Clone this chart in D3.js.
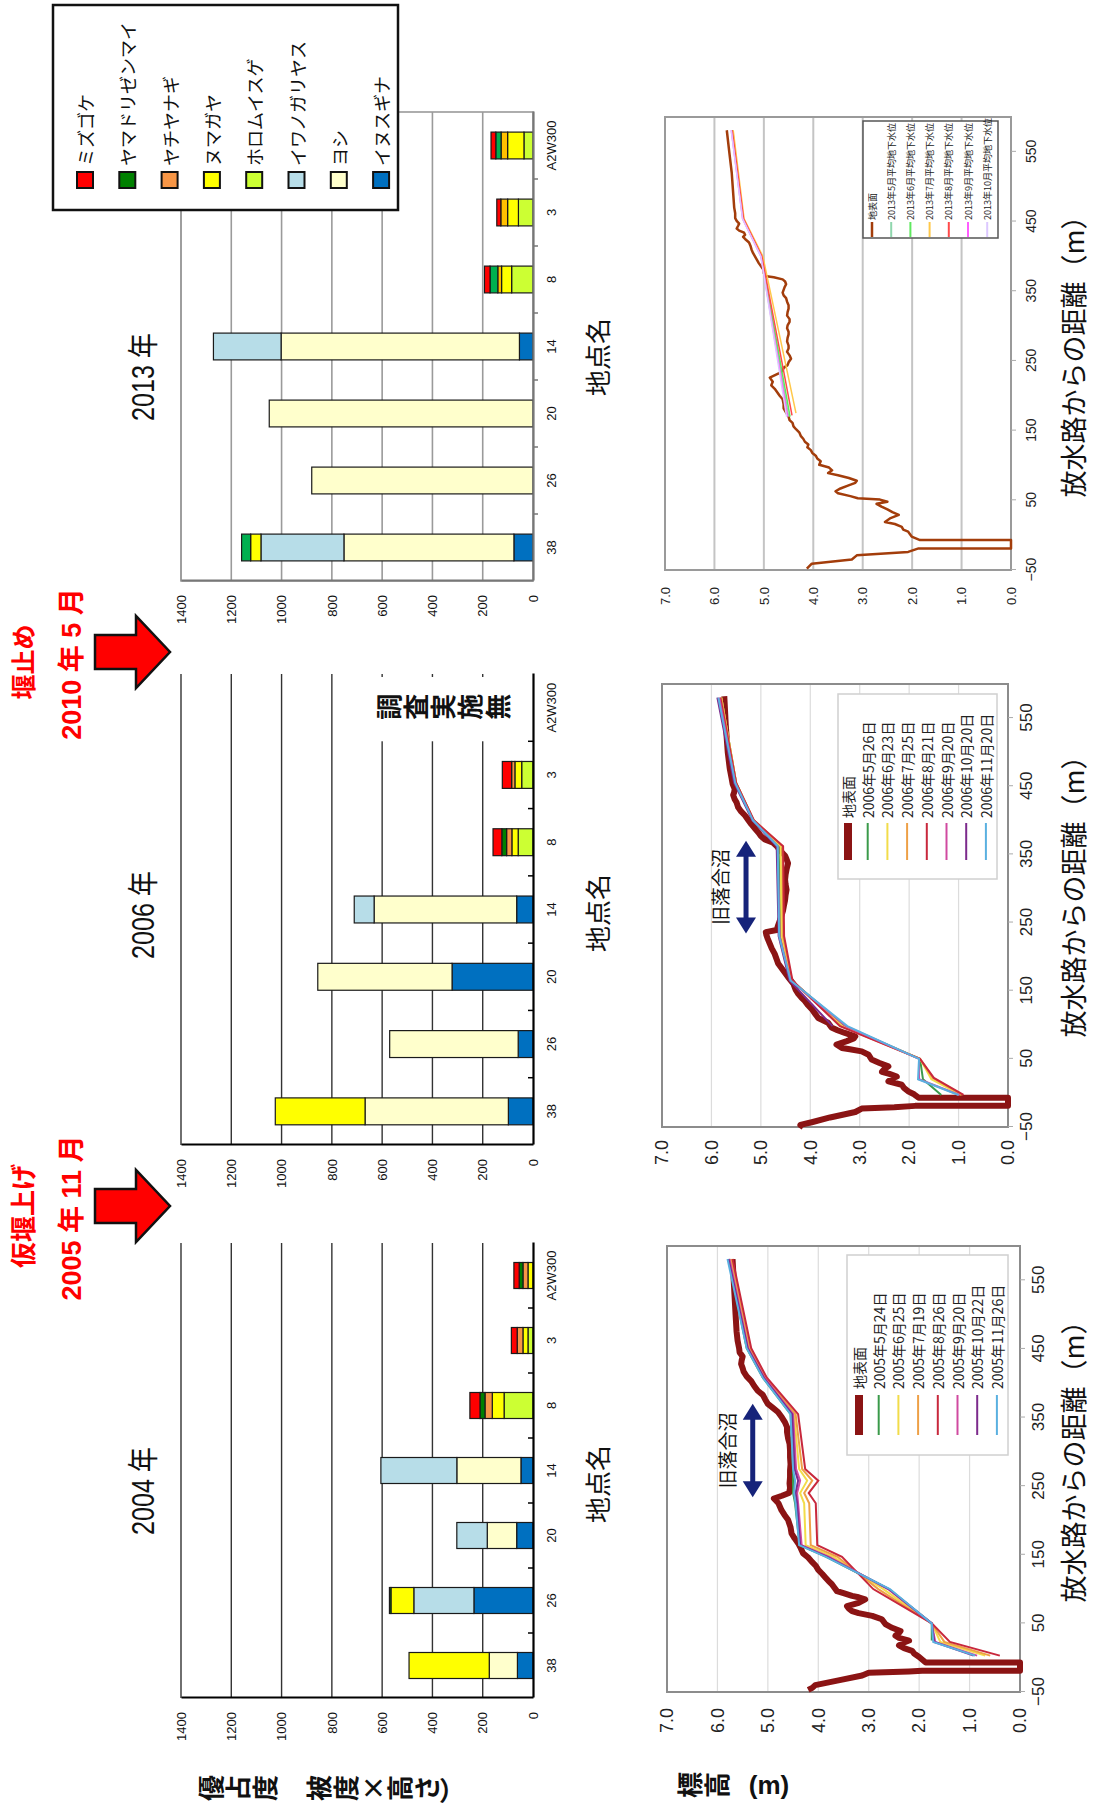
<!DOCTYPE html>
<html lang="ja">
<head>
<meta charset="utf-8">
<title>植生と地下水位の変化</title>
<script src="https://d3js.org/d3.v7.min.js"></script>
<style>
  body { margin: 0; background: #fff; }
</style>
</head>
<body>
<div id="chart"></div>
<script>
// ---- vegetation (優占度) ----
var sites = ["38", "26", "20", "14", "8", "3", "A2W300"];
// stacking order from the axis up
var species = ["イヌスギナ", "ヨシ", "イワノガリヤス", "ホロムイスゲ", "ヌマガヤ", "ヤチヤナギ", "ヤマドリゼンマイ", "ミズゴケ"];
var speciesColors = ["#0070c0", "#ffffcc", "#b7dde8", "#ccff33", "#ffff00", "#f79646", "#008000", "#ff0000"];
var speciesColors2013 = ["#0070c0", "#ffffcc", "#b7dde8", "#ccff33", "#ffff00", "#ffc000", "#00b050", "#ff0000"];
var valueTicks = [0, 200, 400, 600, 800, 1000, 1200, 1400];

// rows follow sites, columns follow species
var veg2004 = [
  [62, 112, 0, 0, 319, 0, 0, 0],
  [235, 0, 239, 0, 91, 0, 6, 0],
  [65, 117, 121, 0, 0, 0, 0, 0],
  [48, 255, 302, 0, 0, 0, 0, 0],
  [0, 0, 0, 115, 47, 29, 20, 40],
  [0, 0, 0, 20, 20, 23, 0, 23],
  [0, 0, 0, 0, 20, 20, 15, 21]
];
var veg2006 = [
  [98, 570, 0, 0, 357, 0, 0, 0],
  [59, 511, 0, 0, 0, 0, 0, 0],
  [322, 534, 0, 0, 0, 0, 0, 0],
  [65, 567, 79, 0, 0, 0, 0, 0],
  [0, 0, 0, 59, 25, 21, 19, 35],
  [0, 0, 0, 45, 27, 13, 0, 37],
  [0, 0, 0, 0, 0, 0, 0, 0]
];
var noSurvey2006 = ["A2W300"];
var veg2013 = [
  [76, 676, 330, 0, 41, 0, 36, 0],
  [0, 880, 0, 0, 0, 0, 0, 0],
  [0, 1049, 0, 0, 0, 0, 0, 0],
  [54, 948, 269, 0, 0, 0, 0, 0],
  [0, 0, 0, 85, 40, 15, 31, 22],
  [0, 0, 0, 58, 43, 27, 0, 16],
  [0, 0, 0, 36, 65, 26, 21, 19]
];

// ---- elevation profiles: [distance m, elevation m] ----
var distTicks = [-50, 50, 150, 250, 350, 450, 550];
var elevTicks = [0, 1, 2, 3, 4, 5, 6, 7];
var lakeSpan = [234, 370];

var ground2005 = [[-47,4.2],[-44,4.12],[-40,4.06],[-33,3.6],[-26,3.13],[-22,3.0],[-20,2.2],[-19,1.94],[-19,0],[-7,0],[-7,1.87],[1,2.0],[6,2.1],[10,2.14],[14,2.3],[18,2.4],[22,2.3],[25,2.2],[29,2.4],[32,2.47],[36,2.4],[39,2.37],[44,2.55],[49,2.67],[56,2.74],[61,2.93],[65,3.2],[68,3.33],[72,3.4],[75,3.43],[80,3.2],[85,3.07],[88,3.2],[90,3.33],[94,3.5],[97,3.63],[102,3.68],[107,3.73],[112,3.8],[117,3.86],[122,3.92],[128,4.0],[134,4.05],[140,4.13],[146,4.2],[152,4.3],[160,4.35],[167,4.4],[174,4.47],[181,4.53],[190,4.55],[201,4.6],[208,4.67],[215,4.73],[225,4.79],[232,4.88],[236,4.72],[240,4.58],[247,4.56],[254,4.57],[263,4.56],[273,4.56],[282,4.55],[292,4.56],[302,4.56],[312,4.57],[320,4.6],[329,4.62],[336,4.62],[343,4.66],[350,4.72],[358,4.8],[364,4.9],[370,5.0],[376,5.05],[383,5.1],[389,5.2],[396,5.27],[403,5.33],[410,5.42],[417,5.48],[422,5.5],[428,5.53],[433,5.52],[439,5.5],[445,5.56],[451,5.57],[462,5.6],[475,5.62],[500,5.64],[540,5.67],[581,5.7]];

var ground2006 = [[-50,4.14],[-47,4.2],[-43,3.97],[-36,3.6],[-28,3.09],[-23,2.96],[-21,2.3],[-19,1.88],[-19,0],[-7,0],[-7,1.81],[-2,1.9],[2,2.01],[7,2.1],[12,2.15],[17,2.42],[21,2.35],[24,2.25],[28,2.4],[31,2.55],[35,2.5],[39,2.42],[44,2.6],[49,2.76],[56,2.82],[61,2.96],[64,3.2],[66,3.36],[71,3.47],[76,3.26],[80,3.12],[83,3.09],[88,3.3],[92,3.45],[96,3.57],[103,3.64],[110,3.84],[116,3.9],[123,3.97],[129,4.05],[135,4.11],[140,4.18],[145,4.24],[152,4.3],[160,4.34],[170,4.45],[180,4.55],[190,4.65],[204,4.72],[212,4.78],[219,4.82],[226,4.86],[232,4.89],[236,4.9],[239,4.68],[246,4.65],[254,4.61],[261,4.58],[268,4.55],[276,4.53],[283,4.51],[290,4.5],[298,4.48],[306,4.5],[313,4.51],[320,4.5],[328,4.48],[337,4.45],[343,4.48],[348,4.51],[355,4.6],[362,4.68],[367,4.75],[372,4.92],[377,5.0],[382,5.05],[388,5.12],[394,5.19],[401,5.26],[407,5.32],[413,5.4],[419,5.46],[426,5.49],[431,5.53],[437,5.56],[441,5.54],[446,5.53],[453,5.57],[461,5.59],[476,5.63],[500,5.67],[540,5.71],[582,5.74]];

var ground2013 = [[-48,4.13],[-41,4.03],[-35,3.22],[-29,3.12],[-24,2.08],[-19,1.87],[-19,0],[-7,0],[-7,1.84],[-2,2.01],[5,2.08],[8,2.18],[12,2.21],[16,2.35],[19,2.55],[24,2.45],[29,2.27],[33,2.4],[37,2.5],[41,2.62],[45,2.72],[48,2.5],[51,2.65],[53,3.1],[56,3.25],[60,3.5],[63,3.55],[67,3.45],[71,3.3],[75,3.15],[78,3.12],[82,3.28],[86,3.5],[89,3.7],[93,3.62],[97,3.68],[101,3.88],[106,3.85],[110,3.92],[114,3.95],[118,4.02],[122,4.05],[126,4.12],[130,4.1],[134,4.17],[138,4.2],[142,4.25],[147,4.28],[152,4.35],[156,4.4],[161,4.42],[165,4.48],[170,4.5],[176,4.55],[182,4.6],[188,4.6],[195,4.62],[200,4.68],[205,4.73],[210,4.78],[215,4.85],[220,4.82],[226,4.88],[232,4.7],[236,4.62],[240,4.6],[244,4.52],[248,4.5],[253,4.45],[258,4.48],[263,4.53],[268,4.5],[272,4.5],[278,4.53],[283,4.52],[288,4.5],[292,4.5],[297,4.53],[301,4.52],[306,4.48],[310,4.48],[315,4.53],[320,4.52],[325,4.5],[330,4.5],[335,4.53],[340,4.55],[344,4.6],[348,4.62],[352,4.6],[356,4.58],[360,4.55],[364,4.57],[367,4.62],[370,4.8],[372,4.98],[376,5.0],[380,5.0],[385,5.05],[390,5.1],[395,5.14],[400,5.18],[405,5.22],[410,5.25],[415,5.27],[420,5.3],[425,5.38],[428,5.42],[431,5.38],[434,5.4],[437,5.5],[440,5.55],[444,5.52],[447,5.5],[451,5.55],[455,5.58],[462,5.58],[470,5.6],[490,5.62],[520,5.65],[550,5.7],[581,5.75]];

var wl2005Labels = ["2005年5月24日", "2005年6月25日", "2005年7月19日", "2005年8月26日", "2005年9月20日", "2005年10月22日", "2005年11月26日"];
var wl2005Colors = ["#3a9a4a", "#f2dc4a", "#eea046", "#c8283c", "#d04aa0", "#7c2a8c", "#5ab0e0"];
var wl2005 = [
  [[25,1.75],[50,1.75],[100,2.6],[147,3.84],[164,4.37],[225,4.46],[240,4.5],[258,4.5],[275,4.5],[355,4.55],[408,5.1],[451,5.42],[581,5.78]],
  [[3,0.69],[23,1.58],[50,1.75],[100,2.71],[147,3.7],[164,4.25],[225,4.28],[240,4.36],[258,4.22],[275,4.38],[355,4.48],[408,5.06],[451,5.37],[581,5.74]],
  [[3,0.59],[23,1.5],[50,1.75],[100,2.81],[147,3.62],[164,4.15],[225,4.18],[240,4.28],[258,4.12],[275,4.32],[355,4.45],[408,5.04],[451,5.35],[581,5.72]],
  [[3,0.4],[23,1.39],[50,1.75],[100,2.91],[147,3.53],[164,4.02],[225,4.05],[240,4.19],[258,4.0],[275,4.26],[355,4.4],[408,5.02],[451,5.33],[581,5.7]],
  [[3,0.85],[23,1.68],[50,1.75],[100,2.62],[147,3.78],[164,4.33],[225,4.4],[240,4.42],[258,4.36],[275,4.44],[355,4.5],[408,5.07],[451,5.39],[581,5.76]],
  [[3,0.92],[23,1.7],[50,1.75],[100,2.6],[147,3.82],[164,4.36],[225,4.42],[240,4.45],[258,4.4],[275,4.47],[355,4.52],[408,5.08],[451,5.4],[581,5.78]],
  [[3,0.89],[23,1.72],[50,1.75],[100,2.58],[147,3.85],[164,4.38],[225,4.45],[240,4.48],[258,4.46],[275,4.5],[355,4.55],[408,5.1],[451,5.42],[581,5.8]]
];

var wl2006Labels = ["2006年5月26日", "2006年6月23日", "2006年7月25日", "2006年8月21日", "2006年9月20日", "2006年10月20日", "2006年11月20日"];
var wl2006Colors = ["#3a9a4a", "#f2dc4a", "#eea046", "#c8283c", "#d04aa0", "#7c2a8c", "#5ab0e0"];
var wl2006 = [
  [[-3,1.35],[20,1.72],[50,1.78],[98,3.3],[165,4.38],[230,4.6],[362,4.64],[400,5.15],[455,5.5],[580,5.8]],
  [[-3,0.95],[20,1.55],[50,1.78],[98,3.35],[165,4.38],[230,4.58],[362,4.6],[400,5.15],[455,5.5],[580,5.8]],
  [[-3,0.92],[22,1.52],[50,1.78],[98,3.38],[165,4.37],[230,4.55],[362,4.56],[400,5.14],[455,5.5],[580,5.8]],
  [[-3,0.9],[22,1.5],[50,1.78],[98,3.4],[165,4.36],[230,4.53],[362,4.55],[400,5.14],[455,5.5],[580,5.82]],
  [[-3,0.98],[20,1.8],[50,1.8],[98,3.28],[165,4.4],[230,4.62],[362,4.66],[400,5.16],[455,5.52],[580,5.84]],
  [[98,3.55],[165,4.42],[230,4.64],[362,4.68],[400,5.17],[455,5.54],[580,5.88]],
  [[-3,1.0],[20,1.82],[50,1.8],[98,3.25],[165,4.4],[230,4.63],[362,4.66],[400,5.16],[455,5.52],[580,5.86]]
];

var wl2013Labels = ["2013年5月平均地下水位", "2013年6月平均地下水位", "2013年7月平均地下水位", "2013年8月平均地下水位", "2013年9月平均地下水位", "2013年10月平均地下水位"];
var wl2013Colors = ["#8fd6ad", "#5fe85f", "#ffc84a", "#ff4a4a", "#ff5cff", "#dcc8ff"];
var wl2013 = [
  [[170,4.5],[400,5.05],[454,5.42],[581,5.64]],
  [[170,4.47],[400,5.05],[454,5.42],[581,5.63]],
  [[175,4.35],[400,5.02],[454,5.4],[581,5.62]],
  [[172,4.43],[400,5.04],[454,5.41],[581,5.64]],
  [[170,4.52],[400,5.06],[454,5.43],[581,5.66]],
  [[170,4.54],[400,5.06],[454,5.43],[581,5.66]]
];

// ---- drawing: the figure is laid out landscape and turned onto the page ----
var W = 1807;
var FONT = '"Liberation Sans","Noto Sans CJK JP",sans-serif';
var JFONT = '"Noto Sans CJK JP",sans-serif';
var NAVY = "#16237a";

var svg = d3.select("#chart").append("svg").attr("width", 1096).attr("height", 1807);
svg.append("rect").attr("width", 1096).attr("height", 1807).attr("fill", "#fff");
var g = svg.append("g").attr("transform", "translate(0," + W + ") rotate(-90)");

function label(parent, str, x, y, size, opts) {
  opts = opts || {};
  var t = parent.append("text").attr("x", x).attr("y", y)
    .attr("text-anchor", opts.anchor || "middle")
    .attr("font-family", opts.family || JFONT)
    .attr("font-size", size)
    .attr("font-weight", opts.weight || "normal")
    .attr("fill", opts.fill || "#111")
    .text(str);
  if (opts.len) t.attr("textLength", opts.len).attr("lengthAdjust", "spacingAndGlyphs");
  if (opts.baseline) t.attr("dominant-baseline", opts.baseline);
  return t;
}

// vertical (tate) text: one token per cell, brackets turned
function vtext(tokens, cx, y0, pitch, size, weight) {
  tokens.forEach(function (tk, i) {
    var cy = y0 + i * pitch;
    var t = label(g, tk, cx, cy, size, { weight: weight, baseline: "central", family: tk.length > 1 ? FONT : JFONT });
    if (/[()（）]/.test(tk)) t.attr("transform", "rotate(90," + cx + "," + cy + ")");
  });
}

function barChart(rows, o) {
  var x = d3.scaleBand().domain(sites).range([o.x0, o.x1]).paddingInner(0.6).paddingOuter(0.3);
  var y = d3.scaleLinear().domain([0, 1400]).range([533, 181]);
  var cols = o.colors || speciesColors;
  var c = g.append("g");

  if (o.frame) {
    c.append("rect").attr("x", o.x0).attr("y", y(1400)).attr("width", o.x1 - o.x0).attr("height", y(0) - y(1400))
      .attr("fill", "none").attr("stroke", o.grid).attr("stroke-width", 1.6);
  }
  c.selectAll("line.grid").data(valueTicks.slice(1)).join("line").attr("class", "grid")
    .attr("x1", o.x0).attr("x2", o.x1).attr("y1", function (d) { return y(d); }).attr("y2", function (d) { return y(d); })
    .attr("stroke", o.grid).attr("stroke-width", o.gridWidth || 1.4);

  if (o.noSurvey) {
    o.noSurvey.forEach(function (s) {
      var bx = x(s) - x.step() * x.paddingInner() / 2;
      c.append("rect").attr("x", bx).attr("y", y(690)).attr("width", o.x1 - 3 - bx).attr("height", y(0) - 2 - y(690)).attr("fill", "#fff");
      vtext(Array.from("調査実施無"), x(s) + x.bandwidth() / 2 + 1, 387, 27.3, 26, "bold");
    });
  }

  var table = sites.map(function (s, i) { return { site: s, vals: rows[i] }; });
  var layers = d3.stack().keys(d3.range(species.length)).value(function (d, k) { return d.vals[k]; })(table);
  c.selectAll("g.layer").data(layers).join("g").attr("class", "layer")
    .attr("fill", function (d, i) { return cols[i]; })
    .selectAll("rect").data(function (d) { return d.filter(function (p) { return p[1] > p[0]; }); }).join("rect")
    .attr("x", function (p) { return x(p.data.site); }).attr("width", x.bandwidth())
    .attr("y", function (p) { return y(p[1]); }).attr("height", function (p) { return y(p[0]) - y(p[1]); })
    .attr("stroke", "#1a1a1a").attr("stroke-width", 1.2);

  var ya = c.append("g").attr("transform", "translate(" + o.x0 + ",0)")
    .call(d3.axisLeft(y).tickValues(valueTicks).tickFormat(d3.format("d")).tickSize(0).tickPadding(14));
  ya.select(".domain").attr("stroke", o.axis).attr("stroke-width", 2.2);
  ya.selectAll("text").attr("font-size", 13).attr("font-family", FONT).attr("fill", "#111");

  var xa = c.append("g").attr("transform", "translate(0," + y(0) + ")")
    .call(d3.axisBottom(x).tickSize(0).tickSizeOuter(0).tickPadding(14));
  xa.select(".domain").attr("stroke", o.axis).attr("stroke-width", 2.2);
  xa.selectAll("text").attr("font-size", 13).attr("font-family", FONT).attr("fill", "#111");
  c.selectAll("line.sep").data(sites.slice(1)).join("line").attr("class", "sep")
    .attr("x1", function (s) { return x(s) - x.step() * x.paddingInner() / 2; })
    .attr("x2", function (s) { return x(s) - x.step() * x.paddingInner() / 2; })
    .attr("y1", y(0)).attr("y2", y(0) + o.sepLen)
    .attr("stroke", o.axis).attr("stroke-width", 1.5);

  label(c, o.title, o.titleX, 154, 31, { family: FONT, len: 88 });
  label(c, "地点名", o.nameX, 608, 26);
}

function lakeArrow(c, x, y) {
  var x0 = x(lakeSpan[0]), x1 = x(lakeSpan[1]), yy = y(5.3);
  c.append("line").attr("x1", x0 + 12).attr("x2", x1 - 12).attr("y1", yy).attr("y2", yy)
    .attr("stroke", NAVY).attr("stroke-width", 5);
  c.append("polygon").attr("points", [[x0, yy], [x0 + 16, yy - 10], [x0 + 16, yy + 10]].join(" ")).attr("fill", NAVY);
  c.append("polygon").attr("points", [[x1, yy], [x1 - 16, yy - 10], [x1 - 16, yy + 10]].join(" ")).attr("fill", NAVY);
  label(c, "旧落合沼", (x0 + x1) / 2, yy - 18, 19);
}

function lineChart(o) {
  var x = d3.scaleLinear().domain([-50, 600]).range([o.x0, o.x1]);
  var y = d3.scaleLinear().domain([0, 7]).range([o.y1, o.y0]);
  var c = g.append("g");

  c.selectAll("line.grid").data(elevTicks.slice(1, -1)).join("line").attr("class", "grid")
    .attr("x1", o.x0).attr("x2", o.x1).attr("y1", function (d) { return y(d); }).attr("y2", function (d) { return y(d); })
    .attr("stroke", o.grid).attr("stroke-width", o.gridWidth);
  c.append("rect").attr("x", o.x0).attr("y", o.y0).attr("width", o.x1 - o.x0).attr("height", o.y1 - o.y0)
    .attr("fill", "none").attr("stroke", o.frameColor).attr("stroke-width", 2);

  var line = d3.line().x(function (d) { return x(d[0]); }).y(function (d) { return y(d[1]); });
  c.append("path").datum(o.ground).attr("d", line).attr("fill", "none")
    .attr("stroke", o.groundColor).attr("stroke-width", o.groundWidth).attr("stroke-linejoin", "round");
  c.selectAll("path.wl").data(o.levels).join("path").attr("class", "wl").attr("d", line)
    .attr("fill", "none").attr("stroke", function (d, i) { return o.colors[i]; }).attr("stroke-width", o.lineWidth);

  var ya = c.append("g").attr("transform", "translate(" + o.x0 + ",0)")
    .call(d3.axisLeft(y).tickValues(elevTicks).tickFormat(d3.format(".1f")).tickSize(0).tickPadding(o.yPad));
  ya.select(".domain").remove();
  ya.selectAll("text").attr("font-size", o.yFont).attr("font-family", FONT).attr("fill", "#222");

  var xa = c.append("g").attr("transform", "translate(0," + o.y1 + ")")
    .call(d3.axisBottom(x).tickValues(distTicks).tickSize(5).tickSizeOuter(0).tickPadding(o.xPad));
  xa.select(".domain").remove();
  xa.selectAll("line").attr("stroke", "#aaa");
  xa.selectAll("text").attr("font-size", o.xFont).attr("font-family", FONT).attr("fill", "#222");

  label(c, "放水路からの距離（m）", o.titleX, 1084, 27);

  if (o.lake) lakeArrow(c, x, y);

  var L = o.legend;
  c.append("rect").attr("x", L.x).attr("y", L.y).attr("width", L.w).attr("height", L.h)
    .attr("fill", "#fff").attr("stroke", L.border).attr("stroke-width", 1.5);
  var names = ["地表面"].concat(o.labels);
  var colors = [o.groundColor].concat(o.colors);
  names.forEach(function (nm, i) {
    var ry = L.row0 + i * L.pitch;
    c.append("line").attr("x1", L.s0).attr("x2", L.s1).attr("y1", ry).attr("y2", ry)
      .attr("stroke", colors[i]).attr("stroke-width", i === 0 ? L.gw : 2);
    label(c, nm, L.tx, ry, L.font, { anchor: "start", baseline: "central", fill: "#222" });
  });
}

// bar charts (top row of the landscape figure)
barChart(veg2004, { x0: 109, x1: 564, grid: "#333", axis: "#000", sepLen: -5, title: "2004 年", titleX: 316, nameX: 323 });
barChart(veg2006, { x0: 662, x1: 1133, grid: "#333", axis: "#000", sepLen: -5, title: "2006 年", titleX: 892, nameX: 894, noSurvey: noSurvey2006 });
barChart(veg2013, { x0: 1226, x1: 1695, grid: "#9a9a9a", gridWidth: 1.6, axis: "#777", sepLen: 5, frame: true, colors: speciesColors2013, title: "2013 年", titleX: 1430, nameX: 1450 });

// elevation profiles (bottom row)
lineChart({ x0: 115, x1: 561, y0: 667, y1: 1020, ground: ground2005, groundColor: "#8b1414", groundWidth: 6,
  levels: wl2005, colors: wl2005Colors, labels: wl2005Labels, lineWidth: 2, grid: "#dcdcdc", gridWidth: 1.2, frameColor: "#8c8c8c",
  yPad: 16, yFont: 18, xPad: 7, xFont: 17, titleX: 352, lake: true,
  legend: { x: 352, y: 847, w: 200, h: 161, border: "#d0d0d0", row0: 859, pitch: 19.7, s0: 372, s1: 412, tx: 418, font: 14, gw: 8 } });
lineChart({ x0: 680, x1: 1123, y0: 662, y1: 1008, ground: ground2006, groundColor: "#8b1414", groundWidth: 6,
  levels: wl2006, colors: wl2006Colors, labels: wl2006Labels, lineWidth: 2, grid: "#dcdcdc", gridWidth: 1.2, frameColor: "#8c8c8c",
  yPad: 13, yFont: 18, xPad: 7, xFont: 17, titleX: 917, lake: true,
  legend: { x: 928, y: 838, w: 185, h: 159, border: "#d0d0d0", row0: 848, pitch: 19.7, s0: 947, s1: 984, tx: 989, font: 14, gw: 8 } });
lineChart({ x0: 1237, x1: 1690, y0: 665, y1: 1011, ground: ground2013, groundColor: "#a33d0b", groundWidth: 2.5,
  levels: wl2013, colors: wl2013Colors, labels: wl2013Labels, lineWidth: 1.5, grid: "#c4c4c4", gridWidth: 2, frameColor: "#9a9a9a",
  yPad: 17, yFont: 13, xPad: 10, xFont: 14, titleX: 1457, lake: false,
  legend: { x: 1569, y: 863, w: 117, h: 135, border: "#555", row0: 872, pitch: 19.2, s0: 1570, s1: 1585, tx: 1587, font: 9, gw: 2.5 } });

// species legend
var lg = g.append("g");
lg.append("rect").attr("x", 1597).attr("y", 53).attr("width", 205).attr("height", 345)
  .attr("fill", "#fff").attr("stroke", "#111").attr("stroke-width", 2.5);
species.slice().reverse().forEach(function (sp, i) {
  var cy = 85 + i * 42.3;
  var col = speciesColors[species.length - 1 - i];
  lg.append("rect").attr("x", 1619).attr("y", cy - 8).attr("width", 16).attr("height", 16)
    .attr("fill", col).attr("stroke", "#111").attr("stroke-width", 2);
  label(lg, sp, 1641, cy, 18, { anchor: "start", baseline: "central" });
});

// red event arrows and notes
function eventArrow(cx, line1, line2, s1) {
  g.append("polygon")
    .attr("points", [[cx - 17, 95], [cx + 17, 95], [cx + 17, 136], [cx + 36, 136], [cx, 170], [cx - 36, 136], [cx - 17, 136]].join(" "))
    .attr("fill", "#ff0000").attr("stroke", "#111").attr("stroke-width", 2.5).attr("stroke-linejoin", "miter");
  label(g, line1, cx - 10, 33, s1, { weight: "bold", fill: "#ff0000" });
  label(g, line2, cx - 12, 81, 27, { weight: "bold", fill: "#ff0000", family: FONT });
}
eventArrow(601, "仮堰上げ", "2005 年 11 月", 26);
eventArrow(1155, "堰止め", "2010 年 5 月", 25);

// axis titles set vertically
vtext(["優", "占", "度", " ", "被", "度", "×", "高", "さ", "）"], 19, 209, 27, 26, "bold");
vtext(["標", "高", " ", "(m)"], 22, 688, 27, 26, "bold");
</script>
</body>
</html>
